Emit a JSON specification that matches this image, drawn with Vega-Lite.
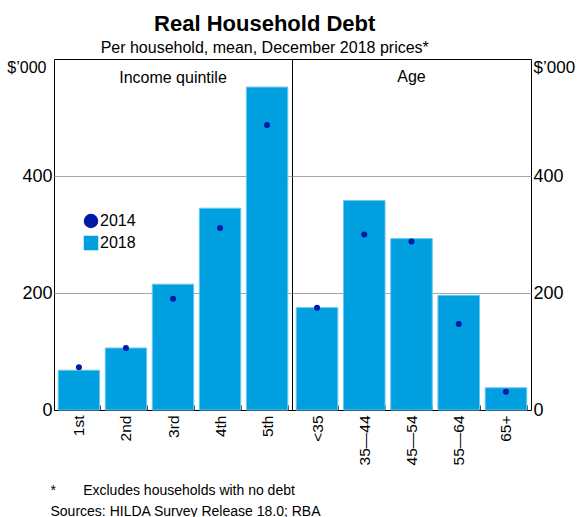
{
  "$schema": "https://vega.github.io/schema/vega-lite/v6.json",
  "background": "white",
  "padding": {"left": 6, "right": 2, "top": 12, "bottom": 0},
  "spacing": 0,
  "bounds": "flush",
  "title": {
    "text": "Real Household Debt",
    "subtitle": "Per household, mean, December 2018 prices*",
    "font": "Arial",
    "fontSize": 22,
    "fontWeight": "bold",
    "color": "black",
    "subtitleFont": "Arial",
    "subtitleFontSize": 16,
    "subtitleColor": "black",
    "subtitlePadding": 4,
    "anchor": "middle",
    "dx": -26,
    "offset": 1
  },
  "data": {
    "values": [
      {"panel": "Income quintile", "cat": "1st", "year": "2018", "value": 68},
      {"panel": "Income quintile", "cat": "2nd", "year": "2018", "value": 106},
      {"panel": "Income quintile", "cat": "3rd", "year": "2018", "value": 215},
      {"panel": "Income quintile", "cat": "4th", "year": "2018", "value": 345},
      {"panel": "Income quintile", "cat": "5th", "year": "2018", "value": 552},
      {"panel": "Income quintile", "cat": "1st", "year": "2014", "value": 73},
      {"panel": "Income quintile", "cat": "2nd", "year": "2014", "value": 106},
      {"panel": "Income quintile", "cat": "3rd", "year": "2014", "value": 190},
      {"panel": "Income quintile", "cat": "4th", "year": "2014", "value": 311},
      {"panel": "Income quintile", "cat": "5th", "year": "2014", "value": 487},
      {"panel": "Age", "cat": "<35", "year": "2018", "value": 175},
      {"panel": "Age", "cat": "35—44", "year": "2018", "value": 358},
      {"panel": "Age", "cat": "45—54", "year": "2018", "value": 293},
      {"panel": "Age", "cat": "55—64", "year": "2018", "value": 196},
      {"panel": "Age", "cat": "65+", "year": "2018", "value": 38},
      {"panel": "Age", "cat": "<35", "year": "2014", "value": 175},
      {"panel": "Age", "cat": "35—44", "year": "2014", "value": 300},
      {"panel": "Age", "cat": "45—54", "year": "2014", "value": 288},
      {"panel": "Age", "cat": "55—64", "year": "2014", "value": 147},
      {"panel": "Age", "cat": "65+", "year": "2014", "value": 31}
    ]
  },
  "config": {
    "font": "Arial",
    "view": {"stroke": "black", "strokeWidth": 1},
    "axis": {"labelColor": "black", "titleColor": "black", "labelFont": "Arial", "titleFont": "Arial"},
    "title": {"font": "Arial", "color": "black"}
  },
  "hconcat": [
    {
      "width": 238,
      "height": 351,
      "title": {"text": "Income quintile", "offset": -27, "fontSize": 16, "fontWeight": "normal"},
      "transform": [{"filter": "datum.panel == 'Income quintile'"}],
      "encoding": {
        "x": {
          "field": "cat", "type": "nominal",
          "sort": ["1st", "2nd", "3rd", "4th", "5th"],
          "scale": {"paddingInner": 0.12, "paddingOuter": 0.09},
          "axis": {
            "title": ["*\u00a0\u00a0\u00a0\u00a0\u00a0\u00a0\u00a0Excludes households with no debt", "Sources: HILDA Survey Release 18.0; RBA"],
            "titleFontSize": 14,
            "titleFontWeight": "normal",
            "titleAnchor": "start",
            "titleAlign": "left",
            "titleBaseline": "middle",
            "titleLineHeight": 21,
            "titleX": -4,
            "titleY": 80,
            "labelAngle": -90,
            "labelFontSize": 15.5,
            "labelPadding": 10,
            "domain": false,
            "tickBand": "extent",
            "tickSize": -5,
            "tickColor": "#444444"
          }
        },
        "y": {
          "field": "value", "type": "quantitative",
          "scale": {"domain": [0, 600]},
          "axis": {
            "orient": "left",
            "title": null,
            "values": [0, 200, 400, 600],
            "labelExpr": "datum.value == 600 ? '$’000' : datum.label",
            "labelFontSize": {"condition": {"test": "datum.value == 600", "value": 16}, "value": 18},
            "labelPadding": {"condition": {"test": "datum.value == 600", "value": 8}, "value": 2},
            "labelBaseline": {"condition": {"test": "datum.value == 600", "value": "top"}, "value": "middle"},
            "ticks": false,
            "domain": false,
            "gridColor": "#A6A6A6",
            "gridOpacity": {"condition": {"test": "datum.value == 0 || datum.value == 600", "value": 0}, "value": 1}
          }
        }
      },
      "layer": [
        {
          "transform": [{"filter": "datum.year == '2018'"}],
          "mark": {"type": "bar", "color": "#009FDF", "stroke": "#6CC8F0", "strokeWidth": 1}
        },
        {
          "transform": [{"filter": "datum.year == '2014'"}],
          "mark": {"type": "point", "filled": true, "size": 36, "opacity": 1},
          "encoding": {
            "color": {
              "field": "year", "type": "nominal",
              "scale": {"domain": ["2014", "2018"], "range": ["#0019A8", "#009FDF"]},
              "legend": {"title": null, "orient": "none", "legendX": 29, "legendY": 154, "labelFontSize": 16, "symbolSize": 210, "rowPadding": 0, "labelOffset": 1, "symbolOpacity": 1}
            },
            "shape": {
              "field": "year", "type": "nominal",
              "scale": {"domain": ["2014", "2018"], "range": ["circle", "square"]},
              "legend": {"title": null, "orient": "none", "legendX": 29, "legendY": 154, "labelFontSize": 16, "symbolSize": 210, "rowPadding": 0, "labelOffset": 1, "symbolOpacity": 1}
            }
          }
        }
      ]
    },
    {
      "width": 239,
      "height": 351,
      "title": {"text": "Age", "offset": -27, "fontSize": 16, "fontWeight": "normal"},
      "transform": [{"filter": "datum.panel == 'Age'"}],
      "encoding": {
        "x": {
          "field": "cat", "type": "nominal",
          "sort": ["<35", "35—44", "45—54", "55—64", "65+"],
          "scale": {"paddingInner": 0.12, "paddingOuter": 0.09},
          "axis": {
            "title": null,
            "labelAngle": -90,
            "labelFontSize": 15.5,
            "labelPadding": 10,
            "domain": false,
            "tickBand": "extent",
            "tickSize": -5,
            "tickColor": "#444444"
          }
        },
        "y": {
          "field": "value", "type": "quantitative",
          "scale": {"domain": [0, 600]},
          "axis": {
            "orient": "right",
            "title": null,
            "values": [0, 200, 400, 600],
            "labelExpr": "datum.value == 600 ? '$’000' : datum.label",
            "labelFontSize": {"condition": {"test": "datum.value == 600", "value": 17}, "value": 18},
            "labelPadding": 2,
            "labelBaseline": {"condition": {"test": "datum.value == 600", "value": "top"}, "value": "middle"},
            "ticks": false,
            "domain": false,
            "gridColor": "#A6A6A6",
            "gridOpacity": {"condition": {"test": "datum.value == 0 || datum.value == 600", "value": 0}, "value": 1}
          }
        }
      },
      "layer": [
        {
          "transform": [{"filter": "datum.year == '2018'"}],
          "mark": {"type": "bar", "color": "#009FDF", "stroke": "#6CC8F0", "strokeWidth": 1}
        },
        {
          "transform": [{"filter": "datum.year == '2014'"}],
          "mark": {"type": "point", "filled": true, "size": 36, "opacity": 1, "color": "#0019A8"}
        }
      ]
    }
  ]
}
